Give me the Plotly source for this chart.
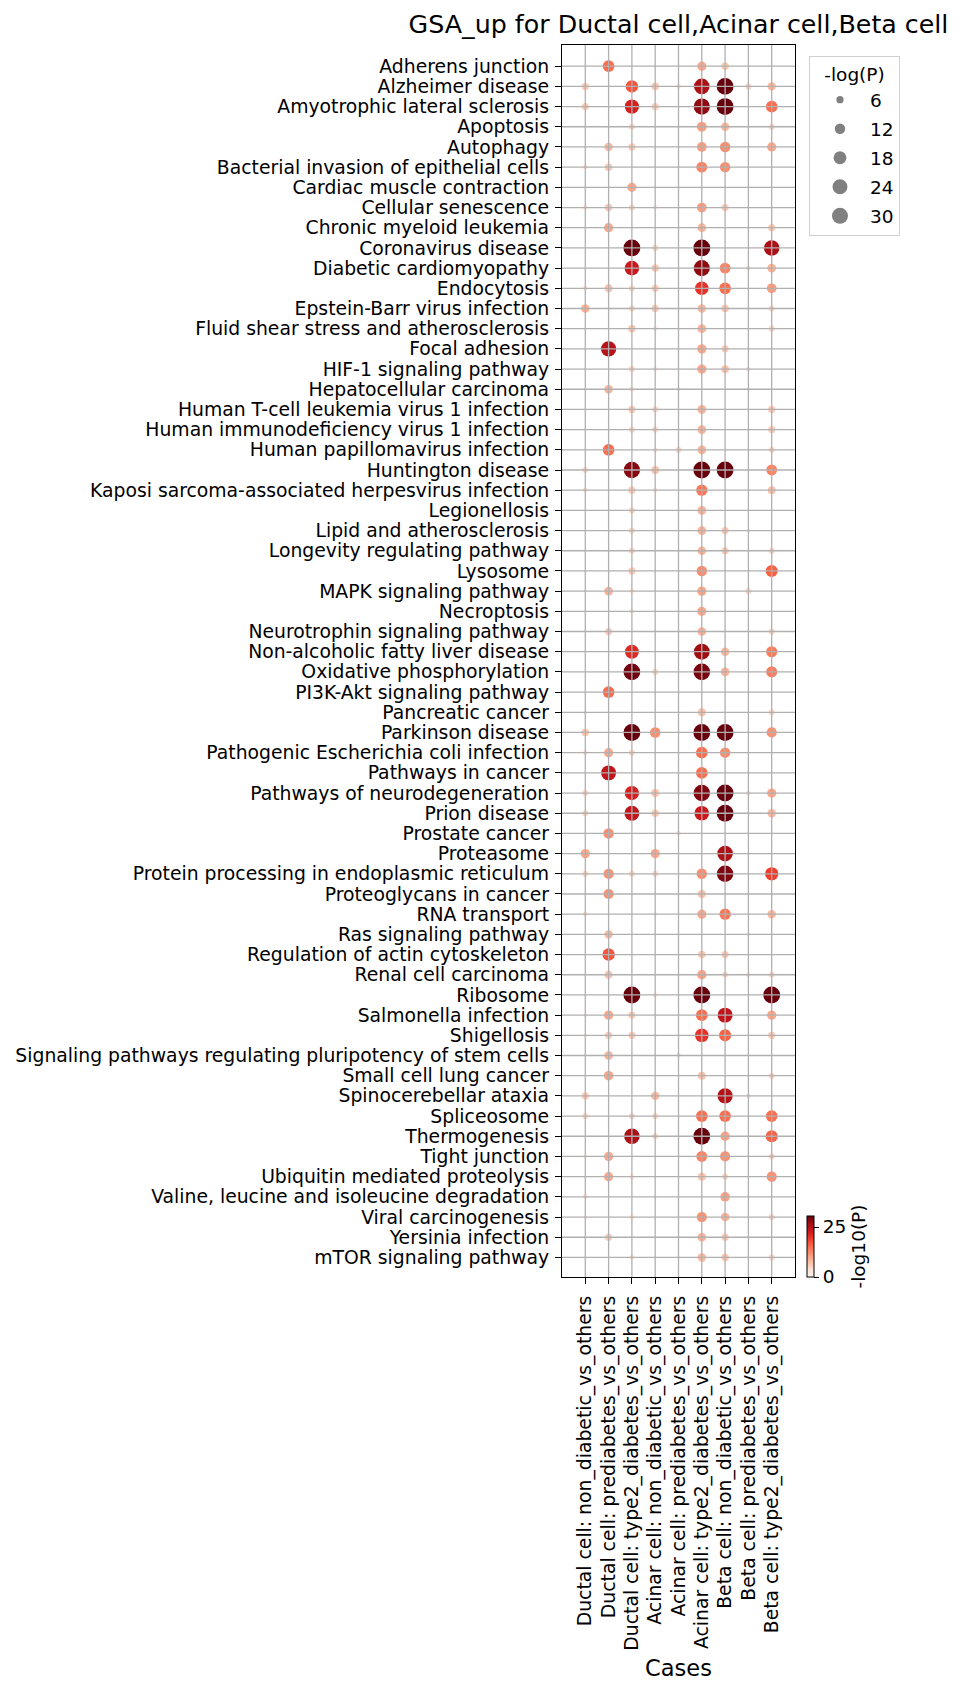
import numpy as np
import plotly.graph_objects as go
from plotly.colors import sequential

FONT = "DejaVu Sans"
GRID = "#b0b0b0"

pathways = [
    "Adherens junction", "Alzheimer disease", "Amyotrophic lateral sclerosis", "Apoptosis",
    "Autophagy", "Bacterial invasion of epithelial cells", "Cardiac muscle contraction",
    "Cellular senescence", "Chronic myeloid leukemia", "Coronavirus disease",
    "Diabetic cardiomyopathy", "Endocytosis", "Epstein-Barr virus infection",
    "Fluid shear stress and atherosclerosis", "Focal adhesion", "HIF-1 signaling pathway",
    "Hepatocellular carcinoma", "Human T-cell leukemia virus 1 infection",
    "Human immunodeficiency virus 1 infection", "Human papillomavirus infection",
    "Huntington disease", "Kaposi sarcoma-associated herpesvirus infection", "Legionellosis",
    "Lipid and atherosclerosis", "Longevity regulating pathway", "Lysosome",
    "MAPK signaling pathway", "Necroptosis", "Neurotrophin signaling pathway",
    "Non-alcoholic fatty liver disease", "Oxidative phosphorylation",
    "PI3K-Akt signaling pathway", "Pancreatic cancer", "Parkinson disease",
    "Pathogenic Escherichia coli infection", "Pathways in cancer",
    "Pathways of neurodegeneration", "Prion disease", "Prostate cancer", "Proteasome",
    "Protein processing in endoplasmic reticulum", "Proteoglycans in cancer", "RNA transport",
    "Ras signaling pathway", "Regulation of actin cytoskeleton", "Renal cell carcinoma",
    "Ribosome", "Salmonella infection", "Shigellosis",
    "Signaling pathways regulating pluripotency of stem cells", "Small cell lung cancer",
    "Spinocerebellar ataxia", "Spliceosome", "Thermogenesis", "Tight junction",
    "Ubiquitin mediated proteolysis", "Valine, leucine and isoleucine degradation",
    "Viral carcinogenesis", "Yersinia infection", "mTOR signaling pathway",
]

cases = [
    "Ductal cell: non_diabetic_vs_others", "Ductal cell: prediabetes_vs_others",
    "Ductal cell: type2_diabetes_vs_others", "Acinar cell: non_diabetic_vs_others",
    "Acinar cell: prediabetes_vs_others", "Acinar cell: type2_diabetes_vs_others",
    "Beta cell: non_diabetic_vs_others", "Beta cell: prediabetes_vs_others",
    "Beta cell: type2_diabetes_vs_others",
]

# -log10(P) per pathway (same order as pathways), 0 = not significant / no dot
ductal_non = [0, 6, 6, 0, 0, 3, 0, 3, 0, 0,
              0, 3, 8.5, 0, 0, 0, 0, 0, 0, 0,
              4.5, 3, 0, 0, 0, 0, 0, 0, 0, 0,
              0, 0, 2, 6.5, 3, 0, 4.5, 4.5, 0, 9.5,
              4.5, 0, 3, 0, 0, 0, 0, 2, 2, 0,
              0, 6, 4.5, 0, 2, 0, 3, 2, 0, 0]
ductal_pre = [15, 0, 0, 0, 8, 6.5, 0, 6.5, 9.5, 0,
              0, 7, 0, 0, 25, 0, 8.5, 0, 0, 15,
              0, 0, 0, 0, 0, 0, 8.5, 0, 6, 0,
              0, 15, 0, 0, 9.5, 24, 0, 0, 12, 0,
              11.5, 11.5, 0, 8, 17, 7, 0, 9.5, 6, 8.5,
              10, 0, 0, 0, 9.5, 9.5, 0, 0, 6, 0]
ductal_t2 = [0, 17, 22, 4.5, 6, 0, 9.5, 4.5, 0, 30.5,
             23, 4.5, 4.5, 6.5, 0, 4.5, 3, 6, 4.5, 0,
             28.5, 6, 4.5, 4.5, 4.5, 6, 3, 3, 0, 21,
             30, 0, 0, 30.5, 4.5, 0, 22, 24, 0, 0,
             4.5, 0, 0, 0, 0, 0, 30.5, 6, 6, 0,
             0, 0, 4.5, 26, 0, 3, 0, 3, 0, 3]
acinar_non = [0, 6.5, 6, 0, 0, 0, 0, 3, 0, 4.5,
              6.5, 6, 6, 3, 0, 3, 0, 4.5, 4.5, 3,
              7, 3, 0, 0, 0, 0, 0, 0, 0, 0,
              4.5, 0, 0, 12, 0, 0, 7, 6.5, 0, 9.5,
              4.5, 0, 2, 0, 0, 0, 3, 2, 2, 0,
              0, 8, 4.5, 4.5, 0, 0, 2, 0, 0, 0]
acinar_pre = [0, 3, 0, 0, 0, 0, 0, 0, 0, 0,
              0, 0, 0, 0, 0, 0, 2, 0, 0, 4.5,
              0, 0, 0, 0, 0, 0, 0, 0, 0, 0,
              0, 0, 0, 0, 0, 0, 2, 0, 3, 0,
              0, 0, 0, 0, 0, 0, 0, 0, 0, 3,
              0, 0, 0, 0, 0, 0, 0, 0, 0, 1.5]
acinar_t2 = [9.5, 26, 28, 10.5, 10.5, 13, 0, 10.5, 8.5, 30.5,
             28, 20, 8, 8.5, 9.5, 9.5, 0, 8.5, 8.5, 8.5,
             30.5, 14, 8.5, 8.5, 8.5, 12, 9.5, 9.5, 8.5, 27,
             29.5, 0, 7, 30.5, 15, 15, 29, 23, 0, 0,
             12, 7, 9.5, 0, 6.5, 10, 30.5, 15, 20, 0,
             7, 0, 15, 30.5, 13, 7, 0, 11.5, 8.5, 8]
beta_non = [6.5, 30.5, 30.5, 8, 12, 12, 0, 6, 0, 0,
            13, 15, 6.5, 0, 6, 7, 0, 0, 0, 0,
            30.5, 0, 0, 6, 6, 0, 0, 0, 0, 8,
            8.5, 0, 0, 30.5, 12, 0, 30.5, 30.5, 0, 26,
            29, 0, 14, 0, 6, 4.5, 0, 24, 16, 0,
            0, 25, 15, 10, 11.5, 4.5, 10, 8.5, 6, 6.5]
beta_pre = [0, 4.5, 0, 0, 0, 0, 0, 0, 0, 0,
            3, 0, 0, 0, 0, 3, 2, 0, 0, 0,
            0, 0, 0, 2, 0, 0, 4.5, 0, 0, 0,
            0, 0, 0, 0, 0, 0, 3, 0, 0, 0,
            0, 0, 0, 2, 0, 3, 0, 2, 0, 0,
            0, 3, 0, 0, 0, 0, 0, 0, 0, 0]
beta_t2 = [0, 8, 15, 4.5, 9.5, 0, 0, 0, 6, 26,
           8.5, 10.5, 4.5, 4.5, 0, 0, 0, 6, 6, 4.5,
           13, 7, 0, 0, 4.5, 16, 0, 0, 4.5, 13.5,
           13.5, 0, 4.5, 11.5, 0, 0, 9.5, 8, 0, 0,
           19, 0, 8, 0, 0, 4.5, 30.5, 9.5, 6, 0,
           4.5, 0, 15, 16, 4.5, 11.5, 0, 4.5, 0, 4.5]

size_legend = [6, 12, 18, 24, 30]
color_max = 30.5
colorbar_ticks = [0, 25]

# marker area grows linearly with the value
SIZE_A, SIZE_B = -5.0, 9.5


def dot_size(v):
    return np.sqrt(np.clip(SIZE_A + SIZE_B * np.asarray(v, dtype=float), 4, None))


columns = [ductal_non, ductal_pre, ductal_t2, acinar_non, acinar_pre,
           acinar_t2, beta_non, beta_pre, beta_t2]

xs, ys, vals = [], [], []
for case, col in zip(cases, columns):
    for pw, v in zip(pathways, col):
        if v > 0:
            xs.append(case)
            ys.append(pw)
            vals.append(v)

fig = go.Figure()
fig.add_trace(go.Scatter(
    x=xs, y=ys, mode="markers", showlegend=False,
    marker=dict(
        size=dot_size(vals), sizemode="diameter", color=vals, opacity=1,
        colorscale=sequential.Reds, cmin=0, cmax=color_max, line=dict(width=0),
        colorbar=dict(
            lenmode="pixels", len=61, thickness=7,
            x=1.0515, xanchor="left", xpad=0, y=0, yanchor="bottom", ypad=0,
            outlinecolor="black", outlinewidth=1,
            tickvals=colorbar_ticks, ticks="outside", ticklen=5, tickcolor="black",
            tickfont=dict(family=FONT, size=18.5, color="black"),
            title=dict(text="-log10(P)", side="right", font=dict(family=FONT, size=18.5, color="black")),
        ),
    ),
    hovertemplate="%{y}<br>%{x}<br>-log10(P)=%{marker.color:.1f}<extra></extra>",
))

# size legend
for v in size_legend:
    fig.add_trace(go.Scatter(
        x=[None], y=[None], mode="markers", name=str(v), legendgroup=str(v),
        marker=dict(size=float(dot_size(v)), color="#808080", opacity=1),
    ))

# grid drawn over the dots, as in the original
for i in range(len(cases)):
    fig.add_vline(x=i, line=dict(color=GRID, width=1.3), layer="above")
for j in range(len(pathways)):
    fig.add_hline(y=j, line=dict(color=GRID, width=1.3), layer="above")

axis_common = dict(
    showline=True, mirror=True, linecolor="black", linewidth=1.3,
    ticks="outside", ticklen=6, tickwidth=1.3, tickcolor="black",
    showgrid=False, zeroline=False, layer="above traces",
    tickmode="linear", tick0=0, dtick=1,
    tickfont=dict(family=FONT, size=18.8, color="black"),
)

fig.update_xaxes(
    categoryorder="array", categoryarray=cases, range=[-1, 9],
    tickangle=-90, ticklabelstandoff=4,
    title=dict(text="Cases", font=dict(family=FONT, size=22.5, color="black"), standoff=10),
    **axis_common,
)
fig.update_yaxes(
    categoryorder="array", categoryarray=pathways, range=[59.97, -1.05],
    ticklabelstandoff=2,
    **axis_common,
)

fig.update_layout(
    width=960, height=1694,
    margin=dict(l=562, r=165, t=45, b=417),
    paper_bgcolor="white", plot_bgcolor="white",
    font=dict(family=FONT, size=18.5, color="black"),
    title=dict(
        text="GSA_up for Ductal cell,Acinar cell,Beta cell",
        x=0.5, xref="paper", xanchor="center",
        y=1 - 24 / 1694, yref="container", yanchor="middle",
        font=dict(family=FONT, size=25.3, color="black"),
    ),
    legend=dict(
        title=dict(text="-log(P)", side="top center", font=dict(family=FONT, size=18.5)),
        x=1.06, xanchor="left", y=0.991, yanchor="top",
        bordercolor="#d0d0d0", borderwidth=1, bgcolor="white",
        itemsizing="trace", itemwidth=50, tracegroupgap=2,
        font=dict(family=FONT, size=18.5, color="black"),
    ),
)

# the page body has an 8px default margin; drop it so the figure sits at the origin
fig.write_html("out.html", config={"displayModeBar": False},
               post_script="document.body.style.margin='0';")
